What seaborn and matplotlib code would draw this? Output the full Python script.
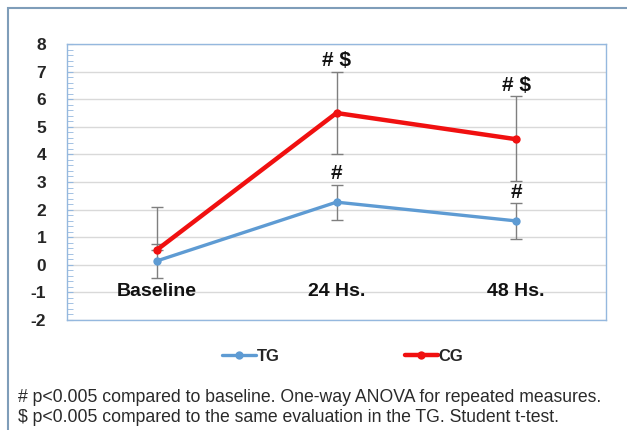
import numpy as np
import pandas as pd
import matplotlib
matplotlib.use("Agg")
import matplotlib.pyplot as plt
from matplotlib.patches import Rectangle
from matplotlib.ticker import MultipleLocator
import seaborn as sns

# values
times = ["Baseline", "24 Hs.", "48 Hs."]
tg_mean = [0.14, 2.27, 1.59]
tg_err = [0.63, 0.63, 0.65]
cg_mean = [0.54, 5.50, 4.55]
cg_err_low = [0.0, 1.50, 1.52]
cg_err_high = [1.56, 1.50, 1.55]

tg_marks = ["", "#", "#"]
cg_marks = ["", "# $", "# $"]
notes = ["# p<0.005 compared to baseline. One-way ANOVA for repeated measures.",
         "$ p<0.005 compared to the same evaluation in the TG. Student t-test."]

df = pd.DataFrame({
    "time": times * 2,
    "value": tg_mean + cg_mean,
    "group": ["TG"] * 3 + ["CG"] * 3,
})

sns.set_style("white")
plt.rcParams["font.family"] = ["Liberation Sans", "DejaVu Sans"]
plt.rcParams["axes.unicode_minus"] = False

fig = plt.figure(figsize=(6.27, 4.30), dpi=100)
ax = fig.add_axes([67 / 627, 1 - 320 / 430, 539 / 627, 276 / 430])

colors = {"TG": "#5E9BD3", "CG": "#F01010"}
x = np.arange(len(times))

# error bars first so lines sit on top
ax.errorbar(x, tg_mean, yerr=tg_err, fmt="none", ecolor="#7F7F7F",
            elinewidth=1.0, capsize=4, capthick=1.0, zorder=2)
ax.errorbar(x, cg_mean, yerr=[cg_err_low, cg_err_high], fmt="none",
            ecolor="#7F7F7F", elinewidth=1.0, capsize=4, capthick=1.0, zorder=2)

sns.lineplot(data=df[df.group == "TG"], x="time", y="value", color=colors["TG"],
             marker="o", markersize=6, markeredgewidth=0, linewidth=2.4,
             ax=ax, label="TG", zorder=3)
sns.lineplot(data=df[df.group == "CG"], x="time", y="value", color=colors["CG"],
             marker="o", markersize=6, markeredgewidth=0, linewidth=3.2,
             ax=ax, label="CG", zorder=4)

ax.set_xlim(-0.5, 2.5)
ax.set_ylim(-2, 8)
ax.yaxis.set_major_locator(MultipleLocator(1))
ax.yaxis.set_minor_locator(MultipleLocator(0.2))
ax.grid(True, axis="y", color="#D9D9D9", linewidth=1.0)
ax.set_axisbelow(True)
for s in ax.spines.values():
    s.set_color("#95B8DE")
    s.set_linewidth(1.0)
ax.tick_params(axis="y", which="both", direction="in", color="#95B8DE",
               labelsize=12.5, pad=15, left=True)
ax.tick_params(axis="y", which="major", length=4)
ax.tick_params(axis="y", which="minor", length=4)
for lb in ax.get_yticklabels():
    lb.set_fontweight("bold")
ax.set_xticks([])
ax.set_xlabel("")
ax.set_ylabel("")

# category labels sit inside the plot, just under zero
for xi, t in zip(x, times):
    ax.text(xi, -0.95, t, ha="center", va="center", fontsize=14,
            fontweight="bold", color="#111111")

# significance marks
for xi, m, v, e in zip(x, tg_marks, tg_mean, tg_err):
    if m:
        ax.text(xi, v + e + 0.05, m, ha="center", va="bottom", fontsize=15,
                fontweight="bold", color="#111111")
for xi, m, v, e in zip(x, cg_marks, cg_mean, cg_err_high):
    if m:
        ax.text(xi, v + e + 0.05, m, ha="center", va="bottom", fontsize=15,
                fontweight="bold", color="#111111")

leg = ax.legend(loc="upper center", bbox_to_anchor=(0.512, -0.05), ncol=2,
                frameon=False, handlelength=2.0, handletextpad=0.05,
                columnspacing=7.5, prop={"weight": "bold", "size": 12})

for i, n in enumerate(notes):
    fig.text(18 / 627, 1 - (398 + 20 * i) / 430, n, ha="left", va="center",
             fontsize=12.7, color="#2A2A2A")

# outer frame of the figure panel
fig.patches.append(Rectangle((8 / 627, -0.1), 1.2, 1.1 - 8 / 430,
                             transform=fig.transFigure, fill=False,
                             edgecolor="#7F9DB9", linewidth=1.5))

fig.savefig("out.png", dpi=100)
